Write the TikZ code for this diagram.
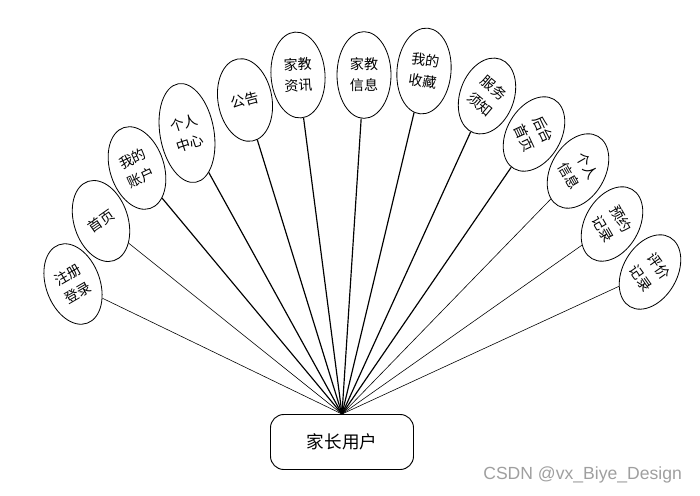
\documentclass[tikz,border=0pt]{standalone}
\usepackage{fontspec}
\setmainfont{Liberation Sans}
\newfontfamily\cjk{Noto Sans CJK SC}
\usetikzlibrary{shapes.geometric}
\tikzset{
  item/.style={draw, ellipse, line width=0.7pt, minimum width=1.62cm, minimum height=2.5cm, inner sep=0pt},
  word/.style={font=\cjk\fontsize{12}{18}\selectfont, align=center, inner sep=0pt},
  leg/.style={line width=0.5pt},
  legb/.style={line width=1pt},
}
\begin{document}
\begin{tikzpicture}[x=0.03cm,y=-0.03cm]
  \useasboundingbox (0,0) rectangle (700,495);
  \node[draw, rounded corners=0.4cm, line width=0.8pt, minimum width=4.29cm, minimum height=1.65cm, font=\cjk\fontsize{15}{18}\selectfont] (user) at (342,442) {家长用户};
  % left side
  \node[item, rotate=20] (zcdl) at (73,284) {};
  \node[word, rotate=30] (zcdl-t) at (zcdl) {注册\\登录};
  \node[item, rotate=18] (sy) at (101,221) {};
  \node[word, rotate=35] (sy-t) at (sy) {首页};
  \node[item, rotate=18, minimum height=2.55cm] (wdzh) at (137,168) {};
  \node[word, rotate=25] (wdzh-t) at (wdzh) {我的\\账户};
  \node[item, rotate=10, minimum height=3.0cm] (grzx) at (187,133) {};
  \node[word, rotate=18] (grzx-t) at (grzx) {个人\\中心};
  \node[item, rotate=10] (gg) at (245,100) {};
  \node[word, rotate=15] (gg-t) at (gg) {公告};
  % middle
  \node[item, rotate=4, minimum height=2.58cm] (jjzx) at (298,75) {};
  \node[word, rotate=2] (jjzx-t) at (jjzx) {家教\\资讯};
  \node[item, minimum height=2.6cm] (jjxx) at (364,75) {};
  \node[word] (jjxx-t) at (jjxx) {家教\\信息};
  \node[item, rotate=-5, minimum height=2.58cm] (wdsc) at (424,71) {};
  \node[word, rotate=-8] (wdsc-t) at (wdsc) {我的\\收藏};
  % right side
  \node[item, rotate=-20, minimum height=2.35cm] (fwxz) at (487,96) {};
  \node[word, rotate=-40] (fwxz-t) at (fwxz) {服务\\须知};
  \node[item, rotate=-30, minimum height=2.4cm] (htsy) at (534,134) {};
  \node[word, rotate=-65] (htsy-t) at (htsy) {后台\\首页};
  \node[item, rotate=-30, minimum height=2.4cm] (grxx) at (578,171) {};
  \node[word, rotate=-60] (grxx-t) at (grxx) {个人\\信息};
  \node[item, rotate=-30, minimum height=2.4cm] (yyjl) at (612,224) {};
  \node[word, rotate=-60] (yyjl-t) at (yyjl) {预约\\记录};
  \node[item, rotate=-30, minimum height=2.4cm] (pjjl) at (650,272) {};
  \node[word, rotate=-55] (pjjl-t) at (pjjl) {评价\\记录};
  % links
  \draw[leg] (user.north) -- (zcdl);
  \draw[leg] (user.north) -- (sy);
  \draw[legb] (user.north) -- (wdzh);
  \draw[legb] (user.north) -- (grzx);
  \draw[legb] (user.north) -- (gg);
  \draw[legb] (user.north) -- (jjzx);
  \draw[legb] (user.north) -- (jjxx);
  \draw[legb] (user.north) -- (wdsc);
  \draw[legb] (user.north) -- (fwxz);
  \draw[legb] (user.north) -- (htsy);
  \draw[leg] (user.north) -- (grxx);
  \draw[leg] (user.north) -- (yyjl);
  \draw[leg] (user.north) -- (pjjl);
  \node[text=gray!75, font=\fontsize{15}{18}\selectfont, anchor=east] (mark) at (686,475) {CSDN @vx\_Biye\_Design};
\end{tikzpicture}
\end{document}
